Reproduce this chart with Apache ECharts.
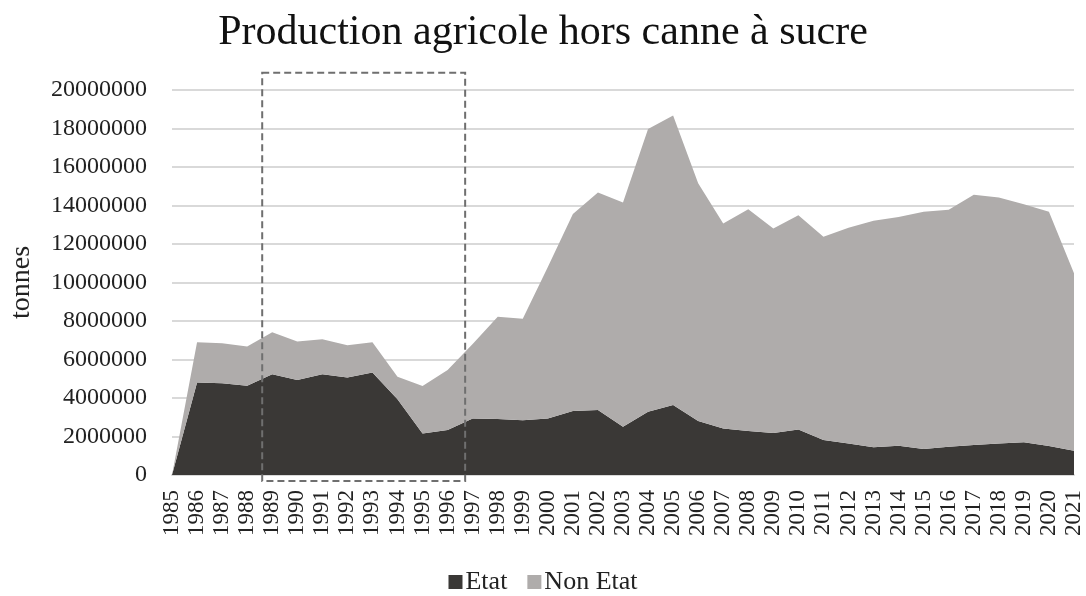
<!DOCTYPE html>
<html>
<head>
<meta charset="utf-8">
<script src="https://cdn.jsdelivr.net/npm/echarts@6/dist/echarts.min.js"></script>
<style>
  html, body { margin: 0; padding: 0; background: #fff; }
  #chart { width: 1086px; height: 596px; }
</style>
</head>
<body>
<div id="chart"></div>
<script>
var years = [];
for (var y = 1985; y <= 2021; y++) years.push(String(y));

// production de l'Etat (tonnes)
var etat = [0, 4810000, 4760000, 4640000, 5230000, 4940000, 5230000, 5060000, 5330000, 3930000,
  2160000, 2340000, 2940000, 2910000, 2840000, 2940000, 3320000, 3380000, 2510000, 3290000,
  3640000, 2810000, 2420000, 2290000, 2180000, 2370000, 1820000, 1640000, 1440000, 1520000,
  1350000, 1470000, 1560000, 1640000, 1700000, 1510000, 1260000];

// production totale, pour en deduire le hors Etat
var total = [0, 6890000, 6840000, 6670000, 7410000, 6930000, 7050000, 6740000, 6890000, 5110000,
  4620000, 5450000, 6800000, 8220000, 8120000, 10800000, 13560000, 14680000, 14160000, 17970000,
  18670000, 15150000, 13070000, 13800000, 12800000, 13490000, 12380000, 12850000, 13210000, 13400000,
  13680000, 13780000, 14560000, 14410000, 14060000, 13680000, 10480000];

var nonEtat = total.map(function (v, i) { return v - etat[i]; });

var chart = echarts.init(document.getElementById('chart'));
var font = 'Liberation Serif';

chart.setOption({
  animation: false,
  title: {
    text: 'Production agricole hors canne à sucre',
    left: 'center',
    top: 7,
    textStyle: { fontFamily: font, fontSize: 42, fontWeight: 'normal', color: '#111' }
  },
  legend: {
    top: 564,
    left: 'center',
    itemWidth: 14,
    itemHeight: 14,
    itemGap: 20,
    icon: 'rect',
    textStyle: { fontFamily: font, fontSize: 26, color: '#222', padding: [0, 0, 0, -2] },
    data: ['Etat', 'Non Etat']
  },
  grid: { left: 172, right: 12, top: 90, bottom: 121 },
  xAxis: {
    type: 'category',
    data: years,
    boundaryGap: false,
    axisTick: { show: false },
    axisLine: { lineStyle: { color: '#d9d9d9', width: 2 } },
    axisLabel: { rotate: 90, interval: 0, fontFamily: font, fontSize: 23, color: '#222', margin: 15 }
  },
  yAxis: {
    type: 'value',
    min: 0,
    max: 20000000,
    interval: 2000000,
    name: 'tonnes',
    nameLocation: 'middle',
    nameGap: 136,
    nameTextStyle: { fontFamily: font, fontSize: 28, color: '#222' },
    axisLabel: {
      fontFamily: font, fontSize: 24, color: '#222', margin: 25,
      formatter: function (v) { return String(v); }
    },
    splitLine: { lineStyle: { color: '#d9d9d9', width: 2 } }
  },
  series: [
    {
      name: 'Etat',
      type: 'line',
      stack: 'prod',
      data: etat,
      symbol: 'none',
      lineStyle: { width: 0 },
      itemStyle: { color: '#3a3836' },
      areaStyle: { color: '#3a3836', opacity: 1 }
    },
    {
      name: 'Non Etat',
      type: 'line',
      stack: 'prod',
      data: nonEtat,
      symbol: 'none',
      lineStyle: { width: 0 },
      itemStyle: { color: '#afacab' },
      areaStyle: { color: '#afacab', opacity: 1 }
    }
  ]
});

// cadre en pointilles autour de 1989-1996
var p1 = chart.convertToPixel({ xAxisIndex: 0, yAxisIndex: 0 }, [4, 20900000]);
var p2 = chart.convertToPixel({ xAxisIndex: 0, yAxisIndex: 0 }, [11, 0]);
var step = p2[0] - chart.convertToPixel({ xAxisIndex: 0, yAxisIndex: 0 }, [10, 0])[0];
var x0 = p1[0] - 0.4 * step;
var x1 = p2[0] + 0.7 * step;
chart.setOption({
  graphic: [{
    type: 'rect',
    shape: { x: x0, y: p1[1], width: x1 - x0, height: p2[1] + 6 - p1[1] },
    style: { fill: 'none', stroke: '#6f6f6f', lineWidth: 2, lineDash: [7, 4] },
    z: 100
  }]
});
</script>
</body>
</html>
